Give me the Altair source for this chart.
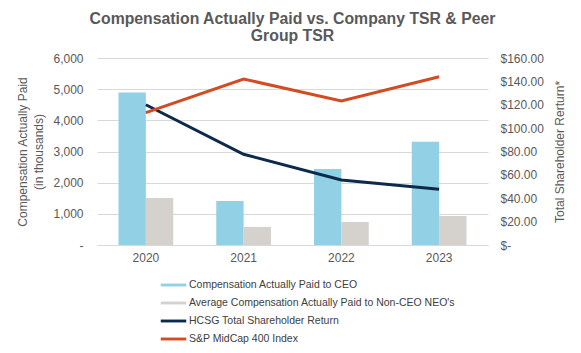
import altair as alt
import pandas as pd

years = ["2020", "2021", "2022", "2023"]
bar_series = ["Compensation Actually Paid to CEO", "Average Compensation Actually Paid to Non-CEO NEO's"]
ceo_cap = [4890, 1410, 2440, 3310]
neo_cap = [1510, 580, 740, 930]
line_series = ["HCSG Total Shareholder Return", "S&P MidCap 400 Index"]
hcsg_tsr = [120.0, 77.6, 55.6, 47.6]
sp400_tsr = [113.2, 142.0, 123.2, 144.0]

all_series = bar_series + line_series
colors = ["#92D0E5", "#D5D1CC", "#0C2A4B", "#D24B22"]

bars_df = pd.DataFrame(
    [{"year": y, "series": bar_series[0], "value": v} for y, v in zip(years, ceo_cap)]
    + [{"year": y, "series": bar_series[1], "value": v} for y, v in zip(years, neo_cap)]
)
lines_df = pd.DataFrame(
    [{"year": y, "series": line_series[0], "value": v} for y, v in zip(years, hcsg_tsr)]
    + [{"year": y, "series": line_series[1], "value": v} for y, v in zip(years, sp400_tsr)]
)

gray = "#595959"
xscale = alt.Scale(domain=years, paddingInner=0.44, paddingOuter=0.22)
color_scale = alt.Scale(domain=all_series, range=colors)

x_enc = alt.X("year:N", scale=xscale, title=None,
              axis=alt.Axis(labelAngle=0, labelColor=gray, labelFontSize=12, labelPadding=7,
                            ticks=False, domainColor="#D9D9D9", grid=False))

legend = alt.Legend(
    title=None, orient="none", legendX=68, legendY=218.5, direction="vertical",
    symbolType="M-1.5,-0.17H1.5V0.17H-1.5Z", symbolSize=289, rowPadding=4,
    labelFontSize=10.5, labelColor="#404040", labelFont="Liberation Sans", labelLimit=400,
    labelOffset=7,
    symbolStrokeWidth=0,
)

bars = alt.Chart(bars_df).mark_bar().encode(
    x=x_enc,
    xOffset=alt.XOffset("series:N", sort=bar_series, scale=alt.Scale(domain=bar_series, paddingInner=0)),
    y=alt.Y("value:Q", scale=alt.Scale(domain=[0, 6000]),
            title=["Compensation Actually Paid", "(in thousands)"],
            axis=alt.Axis(values=[0, 1000, 2000, 3000, 4000, 5000, 6000],
                          labelExpr="datum.value == 0 ? '-' : format(datum.value, ',')",
                          labelColor=gray, labelFontSize=12, labelPadding=14,
                          titleColor=gray, titleFontSize=12, titleFontWeight="normal",
                          titlePadding=7, titleLineHeight=16, domain=False, ticks=False,
                          grid=True, gridColor="#D9D9D9")),
    color=alt.Color("series:N", scale=color_scale, legend=legend),
)

lines = alt.Chart(lines_df).mark_line(strokeWidth=3).encode(
    x=x_enc,
    y=alt.Y("value:Q", scale=alt.Scale(domain=[0, 160]),
            title="Total Shareholder Rerturn*",
            axis=alt.Axis(orient="right", values=[0, 20, 40, 60, 80, 100, 120, 140, 160],
                          labelExpr="datum.value == 0 ? '$-' : '$' + format(datum.value, '.2f')",
                          labelColor=gray, labelFontSize=12, labelPadding=12,
                          titleColor=gray, titleFontSize=12, titleFontWeight="normal",
                          titleAngle=270, titleX=71, titleY=93.5, titleAlign="center",
                          titleBaseline="middle", domain=False, ticks=False, grid=False)),
    color=alt.Color("series:N", scale=color_scale, legend=legend),
)

chart = alt.layer(bars, lines).resolve_scale(y="independent").properties(
    width=391, height=187,
    title=alt.TitleParams(
        ["Compensation Actually Paid vs. Company TSR & Peer", "Group TSR"],
        fontSize=15.8, fontWeight="bold", color=gray, font="Liberation Sans",
        anchor="middle", offset=7, lineHeight=17.5,
    ),
    autosize=alt.AutoSizeParams(type="none"),
    padding={"left": 97, "top": 58, "right": 93, "bottom": 108},
).configure(font="Liberation Sans").configure_view(stroke=None)

chart.save("out.html", embed_options={"renderer": "svg", "actions": False})
